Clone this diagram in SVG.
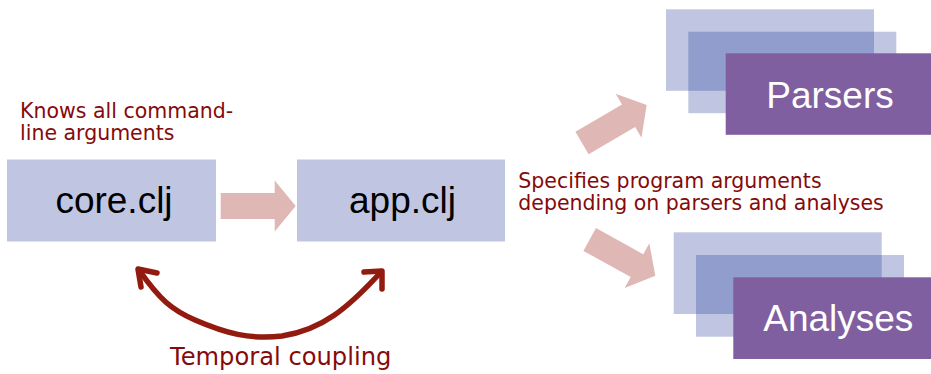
<svg xmlns="http://www.w3.org/2000/svg" width="931" height="374" viewBox="0 0 931 374">
  <style>
    .box { fill: #C0C6E2; }
    .ovl { fill: #919DCD; }
    .pur { fill: #7F5FA0; }
    .lbl { font-family: "Liberation Sans", Arial, sans-serif; font-size: 37px; fill: #000; text-anchor: middle; }
    .wlbl { font-family: "Liberation Sans", Arial, sans-serif; font-size: 37px; fill: #fff; text-anchor: middle; }
    .note { font-family: "DejaVu Sans", Verdana, sans-serif; font-size: 20.5px; fill: #850A0A; }
    .blk { fill: #DFB8B5; }
    .curve { fill: none; stroke: #931A0F; stroke-width: 5.5; stroke-linecap: round; stroke-linejoin: round; }
  </style>
  <defs>
    <polygon id="blockArrow" points="0,-13 54,-13 54,-25.5 75,0 54,25.5 54,13 0,13"/>
  </defs>

  <g id="core">
    <rect class="box" x="7" y="159.5" width="209" height="82"/>
    <text class="lbl" x="114" y="213">core.clj</text>
  </g>

  <g id="app">
    <rect class="box" x="297" y="159.5" width="208" height="82"/>
    <text class="lbl" x="402.5" y="213">app.clj</text>
  </g>

  <g id="parsers">
    <rect class="box" x="666" y="9.3" width="208" height="81.5"/>
    <rect class="box" x="688.3" y="31.7" width="208" height="81.5"/>
    <rect class="ovl" x="688.3" y="31.7" width="185.7" height="59.1"/>
    <rect class="pur" x="725.7" y="53.3" width="210" height="81.5"/>
    <text class="wlbl" x="830" y="108.3">Parsers</text>
  </g>

  <g id="analyses">
    <rect class="box" x="673.7" y="232.3" width="208" height="81.7"/>
    <rect class="box" x="696" y="255" width="208" height="81.7"/>
    <rect class="ovl" x="696" y="255" width="185.7" height="59"/>
    <rect class="pur" x="733.3" y="277.3" width="210" height="81.7"/>
    <text class="wlbl" x="838.3" y="330.7">Analyses</text>
  </g>

  <g id="notes">
    <text class="note" x="20" y="117.7">Knows all command-</text>
    <text class="note" x="20" y="140">line arguments</text>
    <text class="note" x="518.3" y="187.7">Specifies program arguments</text>
    <text class="note" x="518.3" y="210">depending on parsers and analyses</text>
    <text class="note" x="170" y="365" style="font-size:24.2px">Temporal coupling</text>
  </g>

  <g id="connectors">
    <use href="#blockArrow" class="blk" transform="translate(220.7,206)"/>
    <use href="#blockArrow" class="blk" transform="translate(582,143) rotate(-30.4)"/>
    <use href="#blockArrow" class="blk" transform="translate(589.7,239.5) rotate(28.9)"/>
    <path class="curve" d="M139,270 C160,300 172,310 195,320 C225,333 250,340 282,336 C322,330 348,308 381,272"/>
    <polyline class="curve" points="157,273 138,269 141,287"/>
    <polyline class="curve" points="364,272 382,271 382,289"/>
  </g>
</svg>
